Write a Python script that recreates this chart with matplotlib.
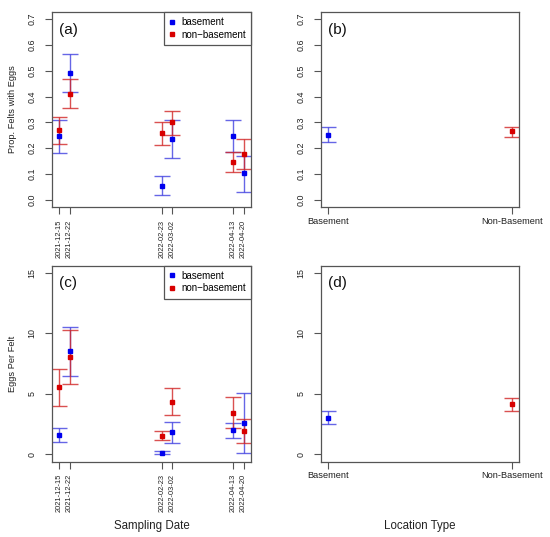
import matplotlib
matplotlib.use("Agg")
import matplotlib.pyplot as plt
import matplotlib.dates as mdates
import numpy as np
import pandas as pd

plt.rcParams['font.family'] = ['Liberation Sans', 'DejaVu Sans']

# ---------------- data ----------------
dates = ["2021-12-15", "2021-12-22", "2022-02-23", "2022-03-02", "2022-04-13", "2022-04-20"]

# (a) proportion of felts with eggs, by date
prop_base = [0.246, 0.490, 0.054, 0.235, 0.246, 0.102]
prop_base_lo = [0.180, 0.417, 0.017, 0.161, 0.185, 0.031]
prop_base_hi = [0.309, 0.564, 0.091, 0.309, 0.308, 0.169]
prop_non = [0.270, 0.412, 0.257, 0.300, 0.148, 0.179]
prop_non_lo = [0.217, 0.356, 0.214, 0.252, 0.109, 0.121]
prop_non_hi = [0.322, 0.470, 0.301, 0.346, 0.185, 0.235]

# (c) eggs per felt, by date
eggs_base = [1.60, 8.50, 0.14, 1.82, 2.01, 2.61]
eggs_base_lo = [1.02, 6.44, 0.03, 0.96, 1.38, 0.14]
eggs_base_hi = [2.15, 10.54, 0.28, 2.67, 2.59, 5.09]
eggs_non = [5.53, 8.06, 1.54, 4.35, 3.44, 1.93]
eggs_non_lo = [3.99, 5.84, 1.16, 3.28, 2.17, 0.94]
eggs_non_hi = [7.05, 10.29, 1.90, 5.48, 4.71, 2.95]

# (b), (d) by location type
loc_types = ["Basement", "Non-Basement"]
loc_prop = [0.252, 0.265]
loc_prop_lo = [0.224, 0.244]
loc_prop_hi = [0.281, 0.284]
loc_eggs = [3.00, 4.13]
loc_eggs_lo = [2.48, 3.55]
loc_eggs_hi = [3.55, 4.68]

prop_ticks = [0.0, 0.1, 0.2, 0.3, 0.4, 0.5, 0.6, 0.7]
eggs_ticks = [0, 5, 10, 15]

# ---------------- styling ----------------
BLUE = '#0000ee'
RED = '#d80000'
BLUE_E = (0.25, 0.25, 0.88, 0.8)
RED_E = (0.82, 0.15, 0.15, 0.8)
SPINE = '#555555'

W, H = 550, 537
fig = plt.figure(figsize=(W / 100, H / 100), dpi=100)


def add_ax(l, r, t, b):
    return fig.add_axes([l / W, 1 - b / H, (r - l) / W, (b - t) / H])


ax_a = add_ax(52, 251, 12, 207)
ax_b = add_ax(320.7, 519.3, 12, 207)
ax_c = add_ax(52, 251, 265.5, 461.5)
ax_d = add_ax(320.7, 519.3, 265.5, 461.5)


def errs(v, lo, hi):
    v = np.asarray(v); lo = np.asarray(lo); hi = np.asarray(hi)
    return [v - lo, hi - v]


def draw(ax, x, v, lo, hi, ecol, col):
    ax.errorbar(x, v, yerr=errs(v, lo, hi), fmt='none', ecolor=ecol,
                elinewidth=1.0, capsize=5.6, capthick=1.0, zorder=2)
    ax.plot(x, v, 's', color=col, ms=3.4, zorder=3, linestyle='none')


def style(ax, ticks, fmt, span):
    for s in ax.spines.values():
        s.set_color(SPINE)
        s.set_linewidth(0.9)
    ax.set_yticks(ticks)
    ax.set_yticklabels([fmt.format(t) for t in ticks], rotation=90, va='center')
    ax.set_ylim(ticks[0] - 0.04 * span, ticks[-1] + 0.04 * span)
    ax.tick_params(axis='y', length=5, width=0.8, color=SPINE, labelsize=6.4,
                   pad=6, labelcolor='#222222')
    ax.tick_params(axis='x', length=5, width=0.8, color=SPINE, labelcolor='#222222')


xd = pd.to_datetime(dates)
xnum = mdates.date2num(xd)
xr = xnum.max() - xnum.min()

for ax, (bv, blo, bhi, nv, nlo, nhi), ticks, fmt, span in [
    (ax_a, (prop_base, prop_base_lo, prop_base_hi, prop_non, prop_non_lo, prop_non_hi), prop_ticks, '{:.1f}', 0.7),
    (ax_c, (eggs_base, eggs_base_lo, eggs_base_hi, eggs_non, eggs_non_lo, eggs_non_hi), eggs_ticks, '{:d}', 15),
]:
    draw(ax, xnum, bv, blo, bhi, BLUE_E, BLUE)
    draw(ax, xnum, nv, nlo, nhi, RED_E, RED)
    style(ax, ticks, fmt, span)
    ax.set_xlim(xnum.min() - 0.04 * xr, xnum.max() + 0.04 * xr)
    ax.set_xticks(xnum)
    ax.set_xticklabels(dates, rotation=90, fontsize=5.4, va='top', ha='center')
    ax.tick_params(axis='x', pad=4)
    h1, = ax.plot([], [], 's', color=BLUE, ms=3.3)
    h2, = ax.plot([], [], 's', color=RED, ms=3.3)
    leg = ax.legend([h1, h2], ['basement', 'non\u2212basement'], loc='upper right',
                    borderaxespad=0, fancybox=False, edgecolor=SPINE, fontsize=7,
                    handlelength=0.6, handletextpad=0.6, labelspacing=0.25,
                    borderpad=0.55, framealpha=1)
    leg.get_frame().set_linewidth(0.9)

for ax, v, lo, hi, ticks, fmt, span in [
    (ax_b, loc_prop, loc_prop_lo, loc_prop_hi, prop_ticks, '{:.1f}', 0.7),
    (ax_d, loc_eggs, loc_eggs_lo, loc_eggs_hi, eggs_ticks, '{:d}', 15),
]:
    draw(ax, [0], v[:1], lo[:1], hi[:1], BLUE_E, BLUE)
    draw(ax, [1], v[1:], lo[1:], hi[1:], RED_E, RED)
    style(ax, ticks, fmt, span)
    ax.set_xlim(-0.04, 1.04)
    ax.set_xticks([0, 1])
    ax.set_xticklabels(loc_types, fontsize=6.7)
    ax.tick_params(axis='x', pad=2)

for ax, lab in [(ax_a, '(a)'), (ax_b, '(b)'), (ax_c, '(c)'), (ax_d, '(d)')]:
    ax.text(0.036, 0.91, lab, transform=ax.transAxes, fontsize=11,
            ha='left', va='center', color='#111111')

ax_a.set_ylabel('Prop. Felts with Eggs', fontsize=6.7, va='center', color='#222222')
ax_a.yaxis.set_label_coords(-0.196, 0.5)
ax_c.set_ylabel('Eggs Per Felt', fontsize=6.7, va='center', color='#222222')
ax_c.yaxis.set_label_coords(-0.196, 0.5)

ax_c.set_xlabel('Sampling Date', fontsize=8.3, va='center', color='#222222')
ax_c.xaxis.set_label_coords(0.5, (461.5 - 525.7) / 196)
ax_d.set_xlabel('Location Type', fontsize=8.3, va='center', color='#222222')
ax_d.xaxis.set_label_coords(0.5, (461.5 - 525.7) / 196)

fig.savefig('out.png', dpi=100)
